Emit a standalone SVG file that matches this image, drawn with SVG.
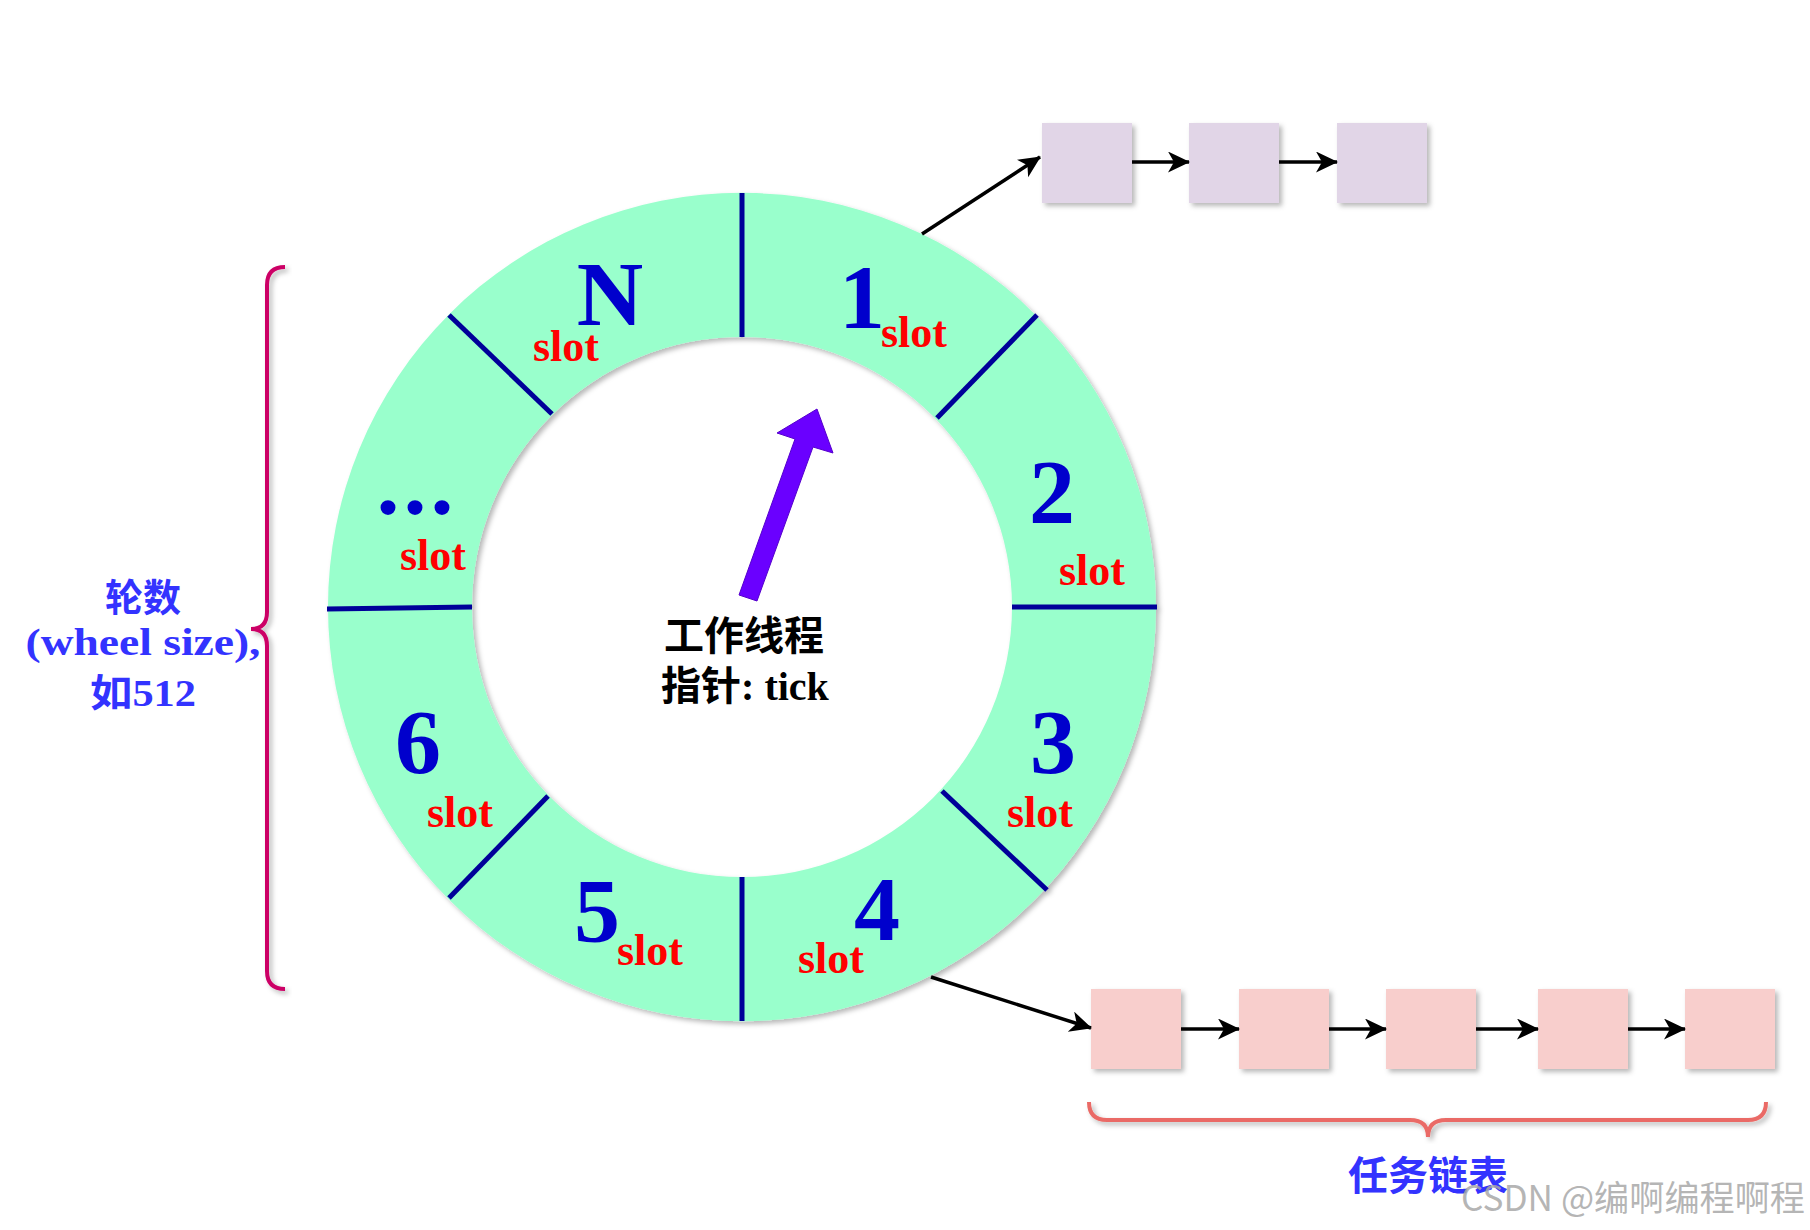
<svg xmlns="http://www.w3.org/2000/svg" width="1810" height="1230" viewBox="0 0 1810 1230">
<defs>
<filter id="sh" x="-10%" y="-10%" width="130%" height="130%">
<feDropShadow dx="3" dy="3" stdDeviation="2.5" flood-color="#000" flood-opacity="0.28"/>
</filter>
<marker id="ah" markerUnits="userSpaceOnUse" markerWidth="24" markerHeight="22" refX="21" refY="10.5" orient="auto">
<path d="M0,0 L22,10.5 L0,21 L6,10.5 Z" fill="#000"/>
</marker>
<style>
.num{font-family:"Liberation Serif","DejaVu Serif",serif;font-weight:bold;font-size:92px;fill:#0000CC;text-anchor:middle}
.slot{font-family:"Liberation Serif","DejaVu Serif",serif;font-weight:bold;font-size:44px;fill:#FF0000;text-anchor:middle}
.div{stroke:#000099;stroke-width:5;fill:none}
.cn{font-family:"Liberation Serif","Noto Sans CJK SC",serif;font-weight:bold;text-anchor:middle}
.blue{fill:#3333FF}
.purple{fill:#E1D5E7}
.pink{fill:#F8CECC}
.conn{stroke:#000;stroke-width:3.5;fill:none;marker-end:url(#ah)}
</style>
</defs>
<rect width="1810" height="1230" fill="#fff"/>

<g id="wheel" filter="url(#sh)">
<path d="M328,607 A414,414 0 1,0 1156,607 A414,414 0 1,0 328,607 Z M472,607 A270,270 0 1,1 1012,607 A270,270 0 1,1 472,607 Z" fill="#99FFCC" fill-rule="evenodd"/>
<line class="div" x1="742" y1="193" x2="742" y2="337"/>
<line class="div" x1="742" y1="877" x2="742" y2="1021"/>
<line class="div" x1="327" y1="609" x2="472" y2="607"/>
<line class="div" x1="1012" y1="607" x2="1157" y2="607"/>
<line class="div" x1="449" y1="315" x2="552" y2="414"/>
<line class="div" x1="1037" y1="315" x2="937" y2="418"/>
<line class="div" x1="942" y1="791" x2="1047" y2="890"/>
<line class="div" x1="548" y1="796" x2="449" y2="898"/>
</g>

<g id="slot-N"><text class="num" x="610" y="325">N</text><text class="slot" x="566" y="361">slot</text></g>
<g id="slot-1"><text class="num" x="862" y="328">1</text><text class="slot" x="914" y="347">slot</text></g>
<g id="slot-2"><text class="num" x="1052" y="523">2</text><text class="slot" x="1092" y="585">slot</text></g>
<g id="slot-3"><text class="num" x="1053" y="773">3</text><text class="slot" x="1040" y="827">slot</text></g>
<g id="slot-4"><text class="num" x="877" y="940">4</text><text class="slot" x="831" y="973">slot</text></g>
<g id="slot-5"><text class="num" x="597" y="942">5</text><text class="slot" x="650" y="965">slot</text></g>
<g id="slot-6"><text class="num" x="418" y="773">6</text><text class="slot" x="460" y="827">slot</text></g>
<g id="slot-dots"><text class="num" x="417" y="514" letter-spacing="4">...</text><text class="slot" x="433" y="570">slot</text></g>

<g id="pointer">
<polygon points="739,595 757,601 813,447 833,453 817,409 777,433 795,439" fill="#6A00FF" stroke="#5500CC" stroke-width="1"/>
</g>

<g id="center-label">
<text class="cn" x="744" y="650" font-size="40" fill="#000">工作线程</text>
<text class="cn" x="745" y="700" font-size="40" fill="#000">指针: tick</text>
</g>

<g id="wheel-size-label">
<path d="M285,267 Q267,267 267,285 L267,612 Q267,629 251,629 Q267,629 267,646 L267,971 Q267,989 285,989" fill="none" stroke="#CC0066" stroke-width="4" filter="url(#sh)"/>
<text class="cn blue" x="143" y="611" font-size="38">轮数</text>
<text class="cn blue" x="143" y="655" font-size="38" textLength="235" lengthAdjust="spacingAndGlyphs">(wheel size),</text>
<text class="cn blue" x="143" y="706" font-size="38" textLength="106" lengthAdjust="spacingAndGlyphs">如512</text>
</g>

<g id="list-top" filter="url(#sh)">
<rect id="t1" class="purple" x="1042" y="123" width="90" height="80"/>
<rect id="t2" class="purple" x="1189" y="123" width="90" height="80"/>
<rect id="t3" class="purple" x="1337" y="123" width="90" height="80"/>
</g>

<g id="list-bottom" filter="url(#sh)">
<rect id="b1" class="pink" x="1091" y="989" width="90" height="80"/>
<rect id="b2" class="pink" x="1239" y="989" width="90" height="80"/>
<rect id="b3" class="pink" x="1386" y="989" width="90" height="80"/>
<rect id="b4" class="pink" x="1538" y="989" width="90" height="80"/>
<rect id="b5" class="pink" x="1685" y="989" width="90" height="80"/>
</g>

<g id="task-list-label">
<path d="M1089,1102 Q1089,1120 1107,1120 L1410,1120 Q1428,1120 1428,1137 Q1428,1120 1446,1120 L1748,1120 Q1766,1120 1766,1102" fill="none" stroke="#EA6B66" stroke-width="4" filter="url(#sh)"/>
<text class="cn blue" x="1428" y="1190" font-size="40">任务链表</text>
</g>

<g id="connectors">
<line class="conn" x1="922" y1="234" x2="1040" y2="157"/>
<line class="conn" x1="1132" y1="162" x2="1189" y2="162"/>
<line class="conn" x1="1279" y1="162" x2="1337" y2="162"/>
<line class="conn" x1="931" y1="977" x2="1091" y2="1028"/>
<line class="conn" x1="1181" y1="1029" x2="1239" y2="1029"/>
<line class="conn" x1="1329" y1="1029" x2="1386" y2="1029"/>
<line class="conn" x1="1476" y1="1029" x2="1538" y2="1029"/>
<line class="conn" x1="1628" y1="1029" x2="1685" y2="1029"/>
</g>

<text x="1805" y="1211" text-anchor="end" font-family="'Noto Sans CJK SC','Noto Sans',sans-serif" font-size="35" fill="#a8a8a8" fill-opacity="0.85" textLength="344" lengthAdjust="spacingAndGlyphs">CSDN @编啊编程啊程</text>
</svg>
